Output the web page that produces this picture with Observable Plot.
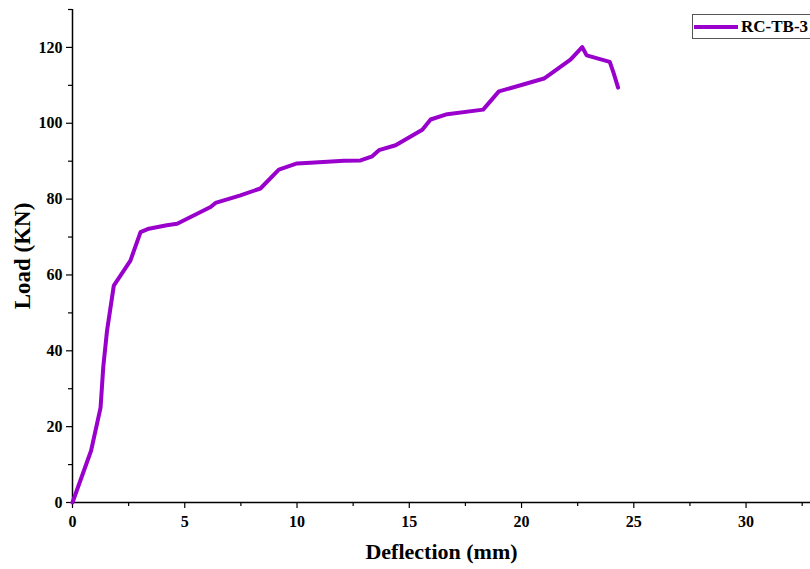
<!DOCTYPE html>
<html>
<head>
<meta charset="utf-8">
<script src="https://cdn.jsdelivr.net/npm/d3@7"></script>
<script src="https://cdn.jsdelivr.net/npm/@observablehq/plot@0.6"></script>
<style>
  html, body { margin: 0; padding: 0; background: #fff; overflow: hidden; }
  #wrap { position: relative; width: 810px; height: 569px; }
  #legend {
    position: absolute; left: 692px; top: 14px; width: 140px; height: 25px;
    border: 1px solid #555; box-sizing: border-box; background: #fff;
    font-family: "Liberation Serif", "Times New Roman", serif; font-weight: bold; font-size: 17px;
    display: flex; align-items: center; white-space: nowrap;
  }
  #legend .sw { width: 44px; height: 4px; background: #9900cc; margin-left: 1px; margin-right: 3px; }
</style>
</head>
<body>
<div id="wrap"><div id="chart"></div><div id="legend"><span class="sw"></span><span>RC-TB-3</span></div></div>
<script>
const seriesName = "RC-TB-3";
const deflection = [0, 0.83, 1.25, 1.37, 1.54, 1.84, 2.58, 3.03, 3.4, 4.2, 4.66, 6.15, 6.37, 7.48, 8.37, 9.19, 10.0, 10.6, 12.09, 12.83, 13.35, 13.65, 14.39, 15.58, 15.95, 16.69, 18.29, 18.99, 21.0, 22.18, 22.7, 22.9, 23.93, 24.11, 24.3];
const load = [0, 13.7, 25, 35.7, 45.4, 57.2, 63.8, 71.3, 72.2, 73.1, 73.5, 77.9, 79, 81, 82.8, 87.8, 89.4, 89.6, 90.1, 90.2, 91.3, 92.9, 94.2, 98.3, 101, 102.4, 103.6, 108.4, 111.8, 116.8, 120.1, 117.9, 116.2, 113.1, 109.4];
const xMajor = [0, 5, 10, 15, 20, 25, 30];
const xMinor = [2.5, 7.5, 12.5, 17.5, 22.5, 27.5, 32.5];
const yMajor = [0, 20, 40, 60, 80, 100, 120];
const yMinor = [10, 30, 50, 70, 90, 110, 130];
const xTitle = "Deflection (mm)";
const yTitle = "Load (KN)";

const data = deflection.map((d, i) => ({x: d, y: load[i]}));
const font = "'Liberation Serif', 'Times New Roman', serif";

const chart = Plot.plot({
  width: 810,
  height: 569,
  marginLeft: 72,
  marginRight: 0,
  marginTop: 9,
  marginBottom: 67,
  style: {fontFamily: font, fontSize: "16px", color: "#000", background: "#fff"},
  x: {domain: [0, 32.87]},
  y: {domain: [0, 130]},
  marks: [
    Plot.axisX({ticks: xMajor, tickSize: 6, tickPadding: 7, fontWeight: "bold", fontSize: 16, label: null, strokeWidth: 1.2}),
    Plot.axisX({ticks: xMinor, tickSize: 4, text: null, label: null, strokeWidth: 1.2}),
    Plot.axisY({ticks: yMajor, tickSize: 6, tickPadding: 4, fontWeight: "bold", fontSize: 16, label: null, strokeWidth: 1.2}),
    Plot.axisY({ticks: yMinor, tickSize: 4, text: null, label: null, strokeWidth: 1.2}),
    Plot.ruleY([0], {stroke: "#000", strokeWidth: 1.5}),
    Plot.ruleX([0], {stroke: "#000", strokeWidth: 1.5}),
    Plot.line(data, {x: "x", y: "y", stroke: "#9900cc", strokeWidth: 4, strokeLinejoin: "round", strokeLinecap: "round"}),
    Plot.text([xTitle], {frameAnchor: "bottom", dy: 56, textAnchor: "middle", fontSize: 22, fontWeight: "bold"}),
    Plot.text([yTitle], {frameAnchor: "left", dx: -50, rotate: -90, textAnchor: "middle", fontSize: 23, fontWeight: "bold"})
  ]
});
document.getElementById("chart").appendChild(chart);
document.querySelector("#legend span:last-child").textContent = seriesName;
</script>
</body>
</html>
